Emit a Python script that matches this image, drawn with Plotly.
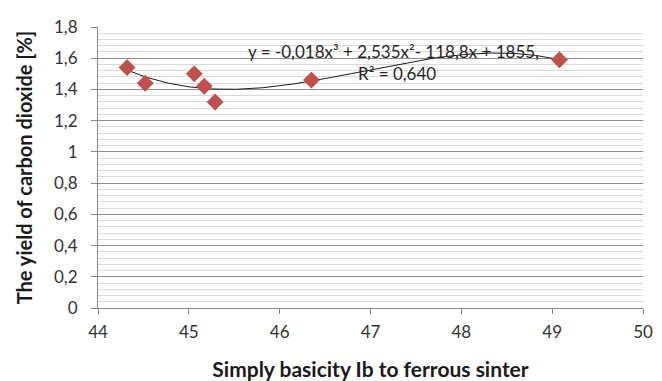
import numpy as np
import plotly.graph_objects as go

# Data
basicity = [44.32, 44.52, 45.06, 45.17, 45.29, 46.35, 49.08]
co2_yield = [1.54, 1.44, 1.50, 1.42, 1.32, 1.46, 1.59]

x_ticks = [44, 45, 46, 47, 48, 49, 50]
x_ticklabels = ["44", "45", "46", "47", "48", "49", "50"]
y_ticks = [0, 0.2, 0.4, 0.6, 0.8, 1.0, 1.2, 1.4, 1.6, 1.8]
y_ticklabels = ["0", "0,2", "0,4", "0,6", "0,8", "1", "1,2", "1,4", "1,6", "1,8"]

equation_text = "y = -0,018x³ + 2,535x²- 118,8x + 1855,"
r2_text = "R² = 0,640"

# Cubic trendline (polynomial fit of order 3) over the data range
coef = np.polyfit(basicity, co2_yield, 3)
xs = np.linspace(min(basicity), max(basicity), 200)
ys = np.polyval(coef, xs)

FONT = "Lato"
fig = go.Figure()
fig.add_trace(go.Scatter(x=xs, y=ys, mode="lines",
                         line=dict(color="#1a1a1a", width=1), hoverinfo="skip"))
fig.add_trace(go.Scatter(x=basicity, y=co2_yield, mode="markers",
                         marker=dict(symbol="diamond", size=13, color="#c0504d")))

fig.add_annotation(x=47.25, y=1.64, text=equation_text, showarrow=False,
                   font=dict(family=FONT, size=17, color="#262626"))
fig.add_annotation(x=47.29, y=1.505, text=r2_text, showarrow=False,
                   font=dict(family=FONT, size=17, color="#262626"))

fig.update_layout(
    width=662, height=381,
    margin=dict(l=98, r=19, t=27, b=73),
    paper_bgcolor="white", plot_bgcolor="white",
    showlegend=False,
    font=dict(family=FONT, size=17, color="#333333"),
    xaxis=dict(range=[44, 50], tickvals=x_ticks, ticktext=x_ticklabels,
               showgrid=False, zeroline=False, showline=True, linecolor="#868686",
               ticks="outside", ticklen=5, tickcolor="#868686",
               ticklabelstandoff=4, automargin=False,
               tickfont=dict(family=FONT, size=17, color="#333333"),
               title=dict(text="<b>Simply basicity Ib to ferrous sinter</b>",
                          font=dict(family=FONT, size=21, color="#1a1a1a"),
                          standoff=20)),
    yaxis=dict(range=[0, 1.8], tickvals=y_ticks, ticktext=y_ticklabels,
               showgrid=True, gridcolor="#8c8c8c", gridwidth=1,
               zeroline=False, showline=True, linecolor="#868686",
               ticks="outside", ticklen=6, tickcolor="#868686",
               ticklabelstandoff=10, automargin=False,
               tickfont=dict(family=FONT, size=17, color="#333333"),
               minor=dict(dtick=0.04, showgrid=True, gridcolor="#d9d9d9", gridwidth=1),
               title=dict(text="<b>The yield of carbon dioxide [%]</b>",
                          font=dict(family=FONT, size=20, color="#1a1a1a"),
                          standoff=16)),
)

fig.write_html("out.html", config={"displayModeBar": False},
               post_script="document.body.style.margin='0';")
